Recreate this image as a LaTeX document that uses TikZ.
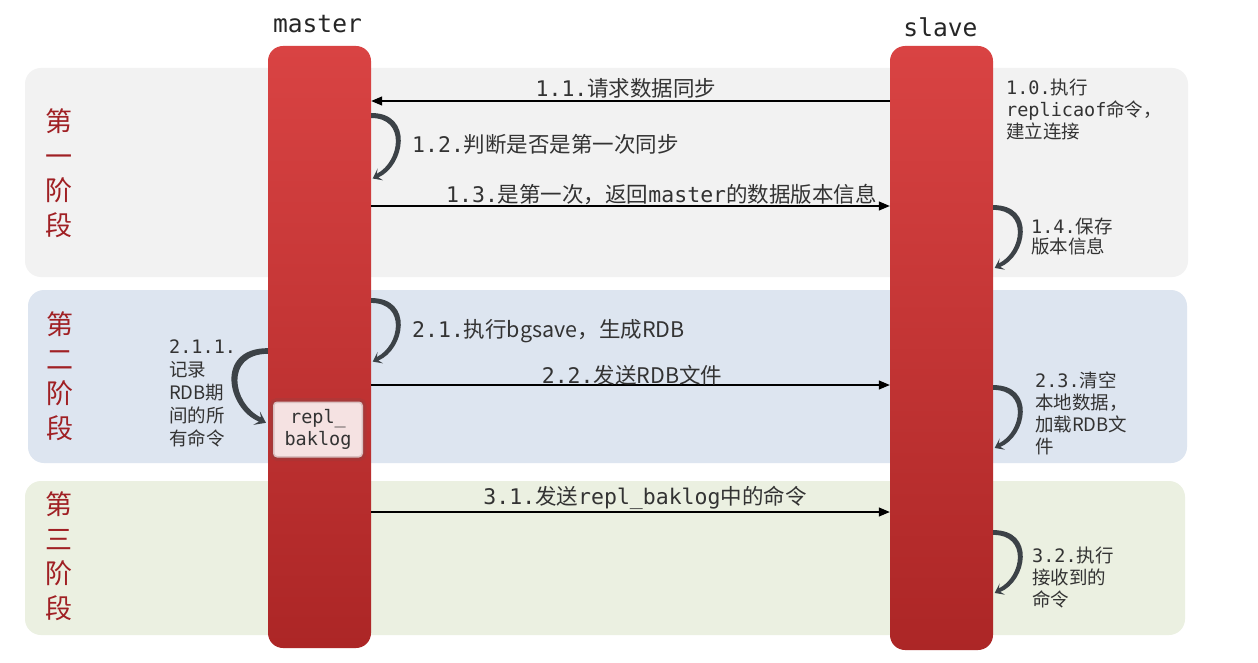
\documentclass[tikz,border=0pt]{standalone}
\usepackage{fontspec}
\setmainfont{DejaVu Sans Mono}
\newfontfamily\cjk{Noto Sans CJK SC}
\usetikzlibrary{arrows.meta}
\newcommand\zh[1]{{\cjk #1}}
\definecolor{bandA}{HTML}{F2F2F2}
\definecolor{bandB}{HTML}{DDE5F0}
\definecolor{bandC}{HTML}{EBF0E1}
\definecolor{bartop}{HTML}{D94343}
\definecolor{barbot}{HTML}{AC2626}
\definecolor{txt}{HTML}{333333}
\definecolor{phasec}{HTML}{A02024}
\definecolor{loopc}{HTML}{3C4247}
\definecolor{replfill}{HTML}{F5E2E2}
\definecolor{repledge}{HTML}{7A4A4A}
\tikzset{
  bar/.style={rounded corners=15pt, top color=bartop, bottom color=barbot, minimum width=103pt, inner sep=0pt, draw=none},
  ttl/.style={font=\fontsize{24.6}{28}\selectfont, text=black!85, inner sep=0pt},
  msg/.style={draw=black, line width=1.2pt, -{Triangle[length=11pt,width=9pt]}},
  big/.style={font=\fontsize{21.5}{24}\selectfont, text=txt, inner sep=0pt},
  small/.style={font=\fontsize{18.5}{22}\selectfont, text=txt, inner sep=0pt, align=left},
  phase/.style={font=\cjk\fontsize{27}{34.6}\selectfont, text=phasec, inner sep=0pt, align=center},
  replbox/.style={rounded corners=4pt, fill=replfill, minimum width=90pt, minimum height=56pt, align=center,
    font=\fontsize{18.5}{22.5}\selectfont, text=txt, inner sep=0pt,
    preaction={draw=repledge, draw opacity=0.18, line width=7pt},
    postaction={draw=repledge, draw opacity=0.22, line width=3pt}},
  loopr/.pic={
    \fill[loopc] (0,-2.5) .. controls (43,-2.5) and (33.5,50.4) .. (7.2,61.9)
      -- (11.8,64.8) -- (1.5,63) -- (6.4,53.0) -- (5.6,58.3)
      .. controls (29,46) and (35,2.5) .. (0,2.5) -- cycle;
  }
}
\begin{document}
\begin{tikzpicture}[x=1pt,y=-1pt]
\useasboundingbox (0,0) rectangle (1258,663);
\fill[white] (0,0) rectangle (1258,663);
% bands
\fill[bandA, rounded corners=16pt] (25,68) rectangle (1188,277);
\fill[bandB, rounded corners=16pt] (28,290) rectangle (1187,463);
\fill[bandC, rounded corners=16pt] (25,481) rectangle (1185,635);
% bars
\node[bar, minimum height=602pt] (master) at (319.5,347) {};
\node[bar, minimum height=604pt] (slave) at (941.5,348) {};
\node[ttl, anchor=base] (tm) at (317.5,33) {master};
\node[ttl, anchor=base] (ts) at (940.5,37) {slave};
% phase labels (anchor at baseline of last line)
\node[phase, anchor=base] (p1) at (58.5,235.5) {第\\一\\阶\\段};
\node[phase, anchor=base] (p2) at (60,438.5) {第\\二\\阶\\段};
\node[phase, anchor=base] (p3) at (58.5,618.5) {第\\三\\阶\\段};
% messages
\draw[msg] (slave.west |- 0,101) -- (master.east |- 0,101);
\draw[msg] (master.east |- 0,206) -- (slave.west |- 0,206);
\draw[msg] (master.east |- 0,385) -- (slave.west |- 0,385);
\draw[msg] (master.east |- 0,512) -- (slave.west |- 0,512);
% self loops
\path (master.east |- 0,115.5) pic {loopr};
\path (slave.east |- 0,207.5) pic[yscale=0.96] {loopr};
\path (master.east |- 0,300.5) pic[yscale=0.97] {loopr};
\path (slave.east |- 0,387.5) pic[yscale=0.96] {loopr};
\path (slave.east |- 0,532.5) pic[yscale=0.96] {loopr};
\path (master.west |- 0,351) pic[xscale=-1.23,yscale=1.14] {loopr};
% repl box
\node[replbox] (repl) at (318,429.5) {repl\_\\baklog};
% labels
\node[big, anchor=base] (l11) at (626,97) {1.1.\zh{请求数据同步}};
\node[big, anchor=base west] (l12) at (412,153) {1.2.\zh{判断是否是第一次同步}};
\node[big, anchor=base west] (l13) at (446,202.5) {1.3.\zh{是第一次，返回}master\zh{的数据版本信息}};
\node[big, anchor=base west] (l21) at (412,337) {2.1.\zh{执行bgsave，生成RDB}};
\node[big, anchor=base] (l22) at (632,383) {2.2.\zh{发送RDB文件}};
\node[big, anchor=base] (l31) at (645,504) {3.1.\zh{发送}repl\_baklog\zh{中的命令}};
\node[small, anchor=base west] (l10) at (1006,138.5) {1.0.\zh{执行}\\replicaof\zh{命令，}\\\zh{建立连接}};
\node[small, font=\fontsize{18.5}{20.5}\selectfont, anchor=base west] (l14) at (1031,254) {1.4.\zh{保存}\\\zh{版本信息}};
\node[small, anchor=base west] (l23) at (1035,453.7) {2.3.\zh{清空}\\\zh{本地数据，}\\\zh{加载RDB文}\\\zh{件}};
\node[small, anchor=base west] (l32) at (1032,606.7) {3.2.\zh{执行}\\\zh{接收到的}\\\zh{命令}};
\node[small, font=\fontsize{18.5}{23}\selectfont, anchor=base west] (l211) at (169,445.5) {2.1.1.\\\zh{记录}\\\zh{RDB期}\\\zh{间的所}\\\zh{有命令}};
\end{tikzpicture}
\end{document}
